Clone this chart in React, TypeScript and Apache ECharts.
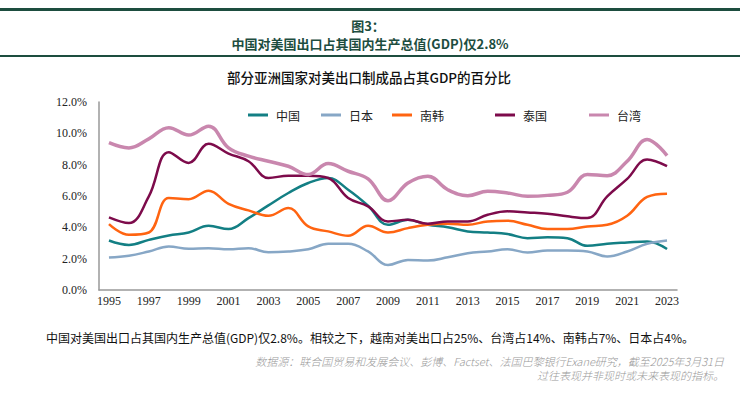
import React, { useEffect, useRef } from "react";
import * as echarts from "echarts";

const years = ["1995","1996","1997","1998","1999","2000","2001","2002","2003","2004","2005","2006","2007","2008","2009","2010","2011","2012","2013","2014","2015","2016","2017","2018","2019","2020","2021","2022","2023"];
const china = [3.16,2.88,3.2,3.48,3.67,4.1,3.89,4.59,5.4,6.19,6.83,7.15,6.4,5.38,4.16,4.48,4.16,4.01,3.74,3.67,3.57,3.31,3.37,3.31,2.82,2.95,3.03,3.1,2.62];
const japan = [2.07,2.18,2.46,2.78,2.63,2.67,2.6,2.67,2.41,2.46,2.6,2.95,2.95,2.46,1.6,1.92,1.88,2.09,2.35,2.46,2.6,2.39,2.52,2.52,2.46,2.14,2.46,2.95,3.16];
const korea = [4.2,3.52,3.67,5.87,5.8,6.34,5.5,5.08,4.74,5.23,4.06,3.74,3.46,4.1,3.67,3.95,4.16,4.23,4.16,4.38,4.42,4.16,3.89,3.89,4.06,4.16,4.74,5.94,6.15];
const thailand = [4.63,4.27,5.98,8.8,8.11,9.33,8.71,8.22,7.15,7.3,7.3,7.15,5.87,5.34,4.38,4.48,4.23,4.38,4.38,4.8,5.02,4.95,4.87,4.7,4.59,5.98,7.09,8.33,7.9];
const taiwan = [9.4,9.07,9.65,10.36,9.89,10.46,9.07,8.54,8.22,7.9,7.37,8.07,7.58,7.09,5.7,6.83,7.26,6.4,6.02,6.3,6.19,5.98,6.04,6.24,7.37,7.3,8.22,9.61,8.58];

const seriesNames = ["中国", "日本", "南韩", "泰国", "台湾"];
const seriesColors = ["#137f84", "#87a7c6", "#ff6411", "#7d0b4b", "#c987ae"];
const seriesWidths = [2.5, 2.5, 2.5, 2.5, 3.5];
const seriesData = [china, japan, korea, thailand, taiwan];
const legendLefts = [243, 316, 387, 490, 584];

const figLabel = "图3：";
const titleText = "中国对美国出口占其国内生产总值(GDP)仅2.8%";
const subtitleText = "部分亚洲国家对美出口制成品占其GDP的百分比";
const noteText = "中国对美国出口占其国内生产总值(GDP)仅2.8%。相较之下，越南对美出口占25%、台湾占14%、南韩占7%、日本占4%。";
const sourceLine1 = "数据源：联合国贸易和发展会议、彭博、Factset、法国巴黎银行Exane研究，截至2025年3月31日";
const sourceLine2 = "过往表现并非现时或未来表现的指标。";

const CJK = "Noto Sans CJK SC";
const SERIF = "Liberation Serif";
const GREEN = "#1d4d3f";

export default function App() {
  const ref = useRef<HTMLDivElement>(null);
  useEffect(() => {
    if (!ref.current) return;
    const chart = echarts.init(ref.current, null, { renderer: "svg" });
    const option: any = {
      animation: false,
      backgroundColor: "#ffffff",
      grid: { left: 99, right: 63, top: 102, bottom: 108, containLabel: false },
      legend: seriesNames.map((n, i) => ({
        data: [n],
        left: legendLefts[i],
        top: 104,
        icon: "rect",
        itemWidth: 20,
        itemHeight: 3,
        itemGap: 0,
        selectedMode: false,
        textStyle: { fontFamily: CJK, fontSize: 12, color: "#222", padding: [0, 0, 0, 3] },
      })),
      xAxis: {
        type: "category",
        data: years,
        boundaryGap: true,
        axisLine: { lineStyle: { color: "#999", width: 1.5 } },
        axisTick: { show: false },
        axisLabel: { interval: 1, fontFamily: SERIF, fontSize: 12, color: "#222", margin: 5 },
        splitLine: { show: false },
      },
      yAxis: {
        type: "value",
        min: 0,
        max: 12,
        interval: 2,
        axisLine: { show: true, lineStyle: { color: "#999", width: 1.5 } },
        axisTick: { show: false },
        splitLine: { show: false },
        axisLabel: {
          fontFamily: SERIF, fontSize: 12, color: "#222", margin: 12,
          formatter: (v: number) => v.toFixed(1) + "%",
        },
      },
      series: seriesNames.map((n, i) => ({
        name: n,
        type: "line",
        data: seriesData[i],
        smooth: 0.4,
        showSymbol: false,
        symbol: "none",
        color: seriesColors[i],
        lineStyle: { color: seriesColors[i], width: seriesWidths[i] },
        z: 2 + i,
      })),
      graphic: [
        { type: "rect", left: 0, top: 8, shape: { width: 740, height: 3 }, style: { fill: GREEN } },
        { type: "rect", left: 0, top: 55, shape: { width: 740, height: 2 }, style: { fill: GREEN } },
        { type: "text", x: 368, y: 25, style: { text: figLabel, fill: GREEN, fontFamily: CJK, fontWeight: "bold", fontSize: 13, lineHeight: 14, textAlign: "center", textVerticalAlign: "middle" } },
        { type: "text", x: 370, y: 43, style: { text: titleText, fill: GREEN, fontFamily: CJK, fontWeight: "bold", fontSize: 13, lineHeight: 14, textAlign: "center", textVerticalAlign: "middle" } },
        { type: "text", x: 369, y: 77, style: { text: subtitleText, fill: "#111", fontFamily: CJK, fontWeight: 500, fontSize: 13.5, textAlign: "center", textVerticalAlign: "middle" } },
        { type: "text", x: 370, y: 337, style: { text: noteText, fill: "#111", fontFamily: CJK, fontSize: 12, textAlign: "center", textVerticalAlign: "middle" } },
        { type: "text", x: 724, y: 360.5, style: { text: sourceLine1, fill: "#999", fontFamily: CJK, fontStyle: "italic", fontWeight: 300, fontSize: 11, lineHeight: 12, textAlign: "right", textVerticalAlign: "middle" } },
        { type: "text", x: 724, y: 375, style: { text: sourceLine2, fill: "#999", fontFamily: CJK, fontStyle: "italic", fontWeight: 300, fontSize: 11, lineHeight: 12, textAlign: "right", textVerticalAlign: "middle" } },
      ],
    };
    chart.setOption(option);
    return () => chart.dispose();
  }, []);
  return <div ref={ref} style={{ position: "fixed", left: 0, top: 0, width: 740, height: 398 }} />;
}
